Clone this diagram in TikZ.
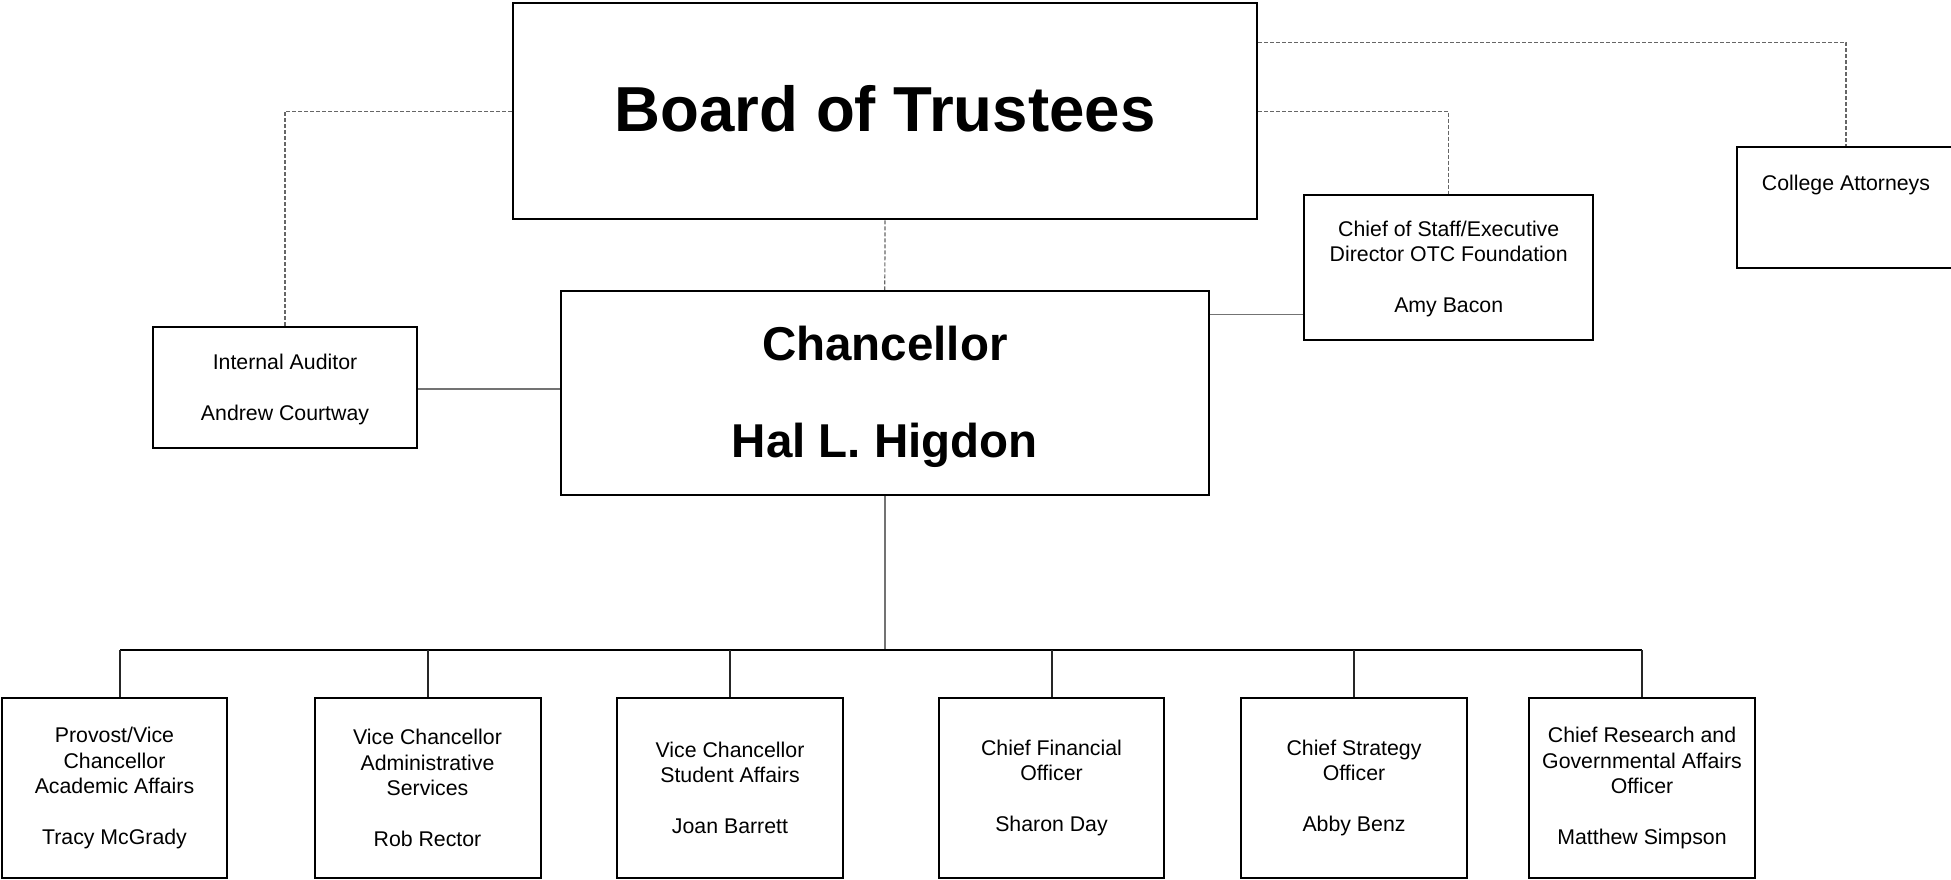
\documentclass[tikz,border=0pt]{standalone}
\usepackage{fontspec}
\setmainfont{Liberation Sans}
\newcommand\liftrule[1]{\rule{0pt}{#1}}
\begin{document}
\begin{tikzpicture}[x=1pt,y=-1pt,
  box/.style={draw=black,line width=2pt,fill=white,inner sep=0pt,align=center,font=\fontsize{21.3}{25.5}\selectfont},
  dashlink/.style={draw=black!60,line width=1.2pt,dash pattern=on 4pt off 2pt},
  solidlink/.style={draw=black!55,line width=1.5pt},
  buslink/.style={draw=black,line width=2pt},
  branch/.style={draw=black!85,line width=2pt}]
\useasboundingbox (0,0) rectangle (1951,880);

\node[box,minimum width=744pt,minimum height=216pt,font=\fontsize{63.6}{70}\selectfont\bfseries] (board) at (885,111.4) {Board of Trustees\rule[-5pt]{0pt}{5pt}};
\node[box,minimum width=648.4pt,minimum height=204.5pt,font=\fontsize{47.5}{48.5}\selectfont\bfseries] (chan) at (884.8,393.2) {\liftrule{42pt}Chancellor\\[48.5pt]Hal L. Higdon};
\node[box,minimum width=264pt,minimum height=121pt] (aud) at (285,387.5) {\liftrule{18.5pt}Internal Auditor\\[25.5pt]Andrew Courtway};
\node[box,minimum width=288.5pt,minimum height=145pt] (cos) at (1448.7,267.5) {\liftrule{18pt}Chief of Staff/Executive\\Director OTC Foundation\\[25.5pt]Amy Bacon};
\node[box,minimum width=218pt,minimum height=121pt] (att) at (1846,207.2) {\liftrule{25pt}College Attorneys\strut\\\strut\\\strut};

\node[box,minimum width=225pt,minimum height=180.6pt] (p1) at (114.5,788) {Provost/Vice\\Chancellor\\Academic Affairs\\[25.5pt]Tracy McGrady};
\node[box,minimum width=226pt,minimum height=180.6pt] (p2) at (427.5,788) {Vice Chancellor\\Administrative\\Services\\[25.5pt]Rob Rector};
\node[box,minimum width=225.5pt,minimum height=180.6pt] (p3) at (730,788) {Vice Chancellor\\Student Affairs\\[25.5pt]Joan Barrett};
\node[box,minimum width=225.5pt,minimum height=180.6pt] (p4) at (1051.5,788) {Chief Financial\\Officer\\[25.5pt]Sharon Day};
\node[box,minimum width=225.5pt,minimum height=180.6pt] (p5) at (1354,788) {Chief Strategy\\Officer\\[25.5pt]Abby Benz};
\node[box,minimum width=225.5pt,minimum height=180.6pt] (p6) at (1642,788) {Chief Research and\\Governmental Affairs\\Officer\\[25.5pt]Matthew Simpson};

\coordinate (busL) at (120,650);
\coordinate (busR) at (1642,650);

% dashed links from the board
\draw[dashlink] (board.west) -| (aud.north);
\draw[dashlink] (board.south) -- (chan.north);
\draw[dashlink] (board.east) -| (cos.north);
\draw[dashlink] ([yshift=-40pt]board.north east) -| (att.north);

% solid links from the chancellor
\draw[solidlink] ([yshift=-1.5pt]aud.east) -- ([yshift=-1.5pt]aud.east -| chan.west);
\draw[solidlink] ([yshift=-24.7pt]chan.north east) -- ([yshift=-24.7pt]chan.north east -| cos.west);
\draw[solidlink] (chan.south) -- (chan.south |- busL);

% bus and branches
\draw[buslink] (busL) -- (busR);
\draw[branch] (busL) -- (busL |- p1.north);
\draw[branch] (p2.north |- busL) -- (p2.north);
\draw[branch] (p3.north |- busL) -- (p3.north);
\draw[branch] (p4.north |- busL) -- (p4.north);
\draw[branch] (p5.north |- busL) -- (p5.north);
\draw[branch] (busR) -- (p6.north);
\end{tikzpicture}
\end{document}
